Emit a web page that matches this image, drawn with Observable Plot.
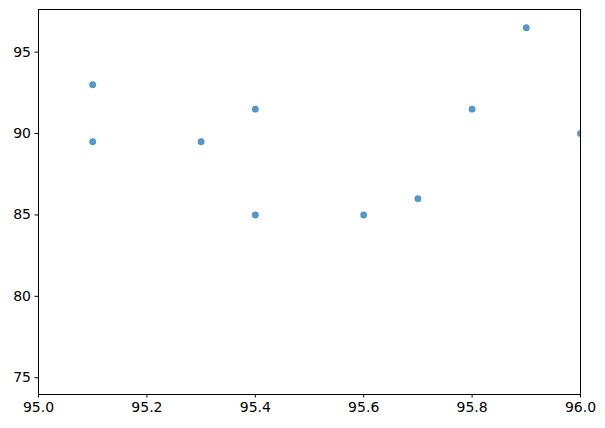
<!DOCTYPE html>
<html>
<head>
<meta charset="utf-8">
<script src="https://cdn.jsdelivr.net/npm/d3@7"></script>
<script src="https://cdn.jsdelivr.net/npm/@observablehq/plot@0.6"></script>
<style>
  html, body { margin: 0; padding: 0; background: #fff; }
  #chart svg { display: block; }
</style>
</head>
<body>
<div id="chart"></div>
<script>
const xValues = [95.1, 95.1, 95.3, 95.4, 95.4, 95.6, 95.7, 95.8, 95.9, 96.0];
const yValues = [93.0, 89.5, 89.5, 91.5, 85.0, 85.0, 86.0, 91.5, 96.5, 90.0];
const xTicks = [95.0, 95.2, 95.4, 95.6, 95.8, 96.0];
const yTicks = [75, 80, 85, 90, 95];

const data = xValues.map((x, i) => ({x, y: yValues[i]}));

const chart = Plot.plot({
  width: 605,
  height: 428,
  marginLeft: 38,
  marginTop: 9,
  marginRight: 25,
  marginBottom: 34,
  style: {fontFamily: "DejaVu Sans", fontSize: "14px", color: "black", background: "white"},
  x: {domain: [95.0, 96.0]},
  y: {domain: [73.97, 97.62]},
  marks: [
    Plot.dot(data, {x: "x", y: "y", r: 3.2, fill: "#1f77b4", fillOpacity: 0.75, stroke: "#1f77b4", strokeOpacity: 0.75, strokeWidth: 0.5, clip: true}),
    Plot.axisX({ticks: xTicks, tickFormat: d3.format(".1f"), tickSize: 3.5, tickPadding: 4, label: null, fontSize: 14}),
    Plot.axisY({ticks: yTicks, tickFormat: d3.format("d"), tickSize: 3.5, tickPadding: 4, label: null, fontSize: 14}),
    Plot.frame({stroke: "black", strokeWidth: 1})
  ]
});
document.getElementById("chart").appendChild(chart);
</script>
</body>
</html>
